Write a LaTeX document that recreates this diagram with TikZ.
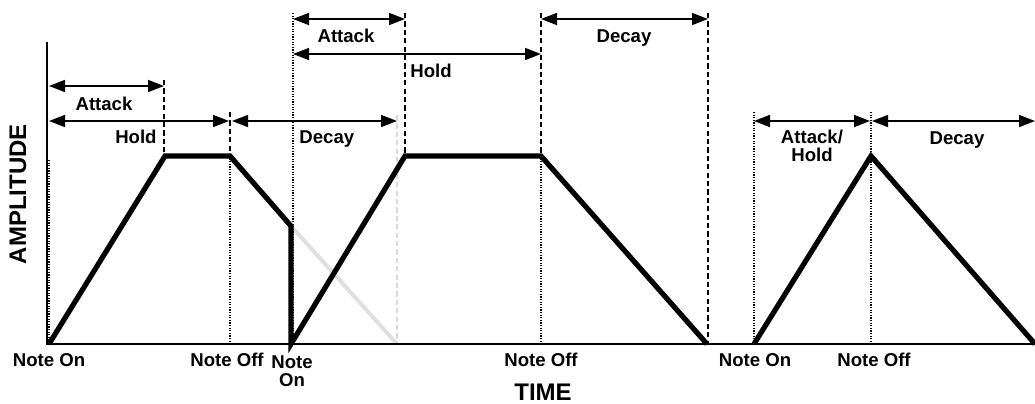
\documentclass[tikz,border=0pt]{standalone}
\usepackage{fontspec}
\setmainfont{Liberation Sans}
\usetikzlibrary{arrows.meta}
\tikzset{ envelope/.style = {line width=2.6pt, line join=miter} }
\tikzset{ ghost/.style = {line width=2pt, black!12} }
\tikzset{ span/.style = {line width=0.8pt, {Triangle[length=8pt,width=6pt]}-{Triangle[length=8pt,width=6pt]}} }
\tikzset{ marker/.style = {line width=0.55pt, dash pattern=on 0.55pt off 0.75pt} }
\tikzset{ limit/.style = {line width=0.7pt, dash pattern=on 2.6pt off 1.6pt} }
\tikzset{ lbl/.style = {font=\bfseries\fontsize{9.3}{9}\selectfont, inner sep=0pt, anchor=base, align=center} }
\tikzset{ axis_lbl/.style = {font=\bfseries\fontsize{12}{12}\selectfont, inner sep=0pt, anchor=base} }

\begin{document}
\begin{tikzpicture}[x=0.5pt, y=-0.5pt]
    \useasboundingbox (0,0) rectangle (1035,403);
    % axes
    \coordinate (O) at (47,344);
    \coordinate (Ytop) at (47,42);
    \coordinate (Xend) at (1035,344);
    % first note
    \coordinate (a0) at (49,344);
    \coordinate (a1) at (165,156);
    \coordinate (a2) at (230,156);
    \coordinate (a3) at (291,226);
    \coordinate (a4) at (291,344);
    \coordinate (g1) at (397,344);
    % second note
    \coordinate (b1) at (405,156);
    \coordinate (b2) at (541,156);
    \coordinate (b3) at (707,344);
    % third note
    \coordinate (c0) at (754,344);
    \coordinate (c1) at (871,156);
    \coordinate (c2) at (1035,344);

    % ghost of the cut decay
    \draw[ghost] (a3) -- (g1);
    \draw[limit, black!15] (397,115) -- (g1);

    % time markers
    \draw[marker] (49,160) -- (a0);
    \draw[limit] (164,80) -- (164,156);
    \draw[limit] (230,112) -- (a2);
    \draw[marker] (a2) -- (230,344);
    \draw[marker] (293,13) -- (293,344);
    \draw[limit] (405,13) -- (b1);
    \draw[limit] (541,13) -- (b2);
    \draw[marker] (b2) -- (541,344);
    \draw[limit] (708,13) -- (708,344);
    \draw[marker] (754,112) -- (754,344);
    \draw[marker] (871,112) -- (871,344);

    % axes
    \draw[line width=1.1pt] (Ytop) -- (O) -- (Xend);

    % envelopes
    \draw[envelope] (a0) -- (a1) -- (a2) -- (a3) -- (a4) -- (b1) -- (b2) -- (b3);
    \draw[envelope] (c0) -- (c1) -- (c2);

    % spans
    \draw[span] (49,86) -- (164,86);
    \draw[span] (49,121) -- (229,121);
    \draw[span] (232,121) -- (397,121);
    \draw[span] (293,19) -- (405,19);
    \draw[span] (293,54) -- (541,54);
    \draw[span] (541,19) -- (708,19);
    \draw[span] (754,121) -- (870,121);
    \draw[span] (872,121) -- (1035,121);

    % span labels
    \node[lbl] (attack1) at (104,110) {Attack};
    \node[lbl, anchor=base east] (hold1) at (157,143) {Hold};
    \node[lbl, anchor=base west] (decay1) at (299,143) {Decay};
    \node[lbl] (attack2) at (346,42) {Attack};
    \node[lbl, anchor=base west] (hold2) at (410,77) {Hold};
    \node[lbl] (decay2) at (624,42) {Decay};
    \node[lbl, anchor=north] (attackhold3) at (812,130) {Attack/\\Hold};
    \node[lbl] (decay3) at (957,144) {Decay};

    % note labels
    \node[lbl] (on1) at (49,366) {Note On};
    \node[lbl] (off1) at (227,366) {Note Off};
    \node[lbl, anchor=north] (on2) at (292,355) {Note\\On};
    \node[lbl] (off2) at (541,366) {Note Off};
    \node[lbl] (on3) at (755,366) {Note On};
    \node[lbl] (off3) at (874,366) {Note Off};

    % axis labels
    \node[axis_lbl] (time) at (543,400) {TIME};
    \node[axis_lbl, rotate=90] (amp) at (26,194) {AMPLITUDE};
\end{tikzpicture}
\end{document}
